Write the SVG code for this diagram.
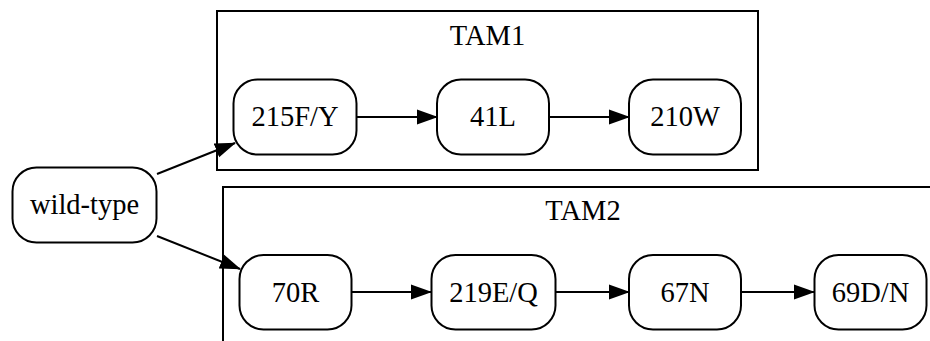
<svg xmlns="http://www.w3.org/2000/svg" width="930" height="341" viewBox="0 0 930 341">
<style>
.cl{fill:none;stroke:#000;stroke-width:2}
.nd{fill:#fff;stroke:#000;stroke-width:2}
text{font-family:"Liberation Serif","Times New Roman",serif;font-size:28.5px;fill:#000;text-anchor:middle}
.ed{fill:none;stroke:#000;stroke-width:2}
</style>
<defs>
<marker id="a" viewBox="0 0 21 16" refX="20" refY="8" markerWidth="21" markerHeight="16" orient="auto" markerUnits="userSpaceOnUse">
<path d="M0,0.5 L21,8 L0,15.5 Z" fill="#000"/>
</marker>
</defs>
<rect width="930" height="341" fill="#fff"/>
<g id="cluster_TAM1">
<rect class="cl" x="217" y="11" width="541" height="159"/>
<text x="487.5" y="44.5">TAM1</text>
</g>
<g id="cluster_TAM2">
<path class="cl" d="M223,345 L223,187 L935,187"/>
<text x="583" y="220">TAM2</text>
</g>
<g id="connectors">
<path class="ed" d="M157,174 L235,143" marker-end="url(#a)"/>
<path class="ed" d="M157,236 L240,269" marker-end="url(#a)"/>
<path class="ed" d="M357,117 L437,117" marker-end="url(#a)"/>
<path class="ed" d="M549,117 L629,117" marker-end="url(#a)"/>
<path class="ed" d="M352,292 L431,292" marker-end="url(#a)"/>
<path class="ed" d="M556,292 L629,292" marker-end="url(#a)"/>
<path class="ed" d="M741,292 L814,292" marker-end="url(#a)"/>
</g>
<g id="wild-type">
<rect class="nd" x="12.5" y="167.5" width="144" height="75" rx="24"/>
<text x="84.5" y="214">wild-type</text>
</g>
<g id="n215FY">
<rect class="nd" x="233.5" y="79.5" width="123" height="75" rx="24"/>
<text x="295" y="126">215F/Y</text>
</g>
<g id="n41L">
<rect class="nd" x="437" y="79.5" width="112" height="75" rx="24"/>
<text x="493" y="126">41L</text>
</g>
<g id="n210W">
<rect class="nd" x="629" y="79.5" width="112" height="75" rx="24"/>
<text x="685" y="126">210W</text>
</g>
<g id="n70R">
<rect class="nd" x="239.5" y="255" width="112" height="74.5" rx="24"/>
<text x="295.5" y="301.5">70R</text>
</g>
<g id="n219EQ">
<rect class="nd" x="431.5" y="255" width="124" height="74.5" rx="24"/>
<text x="493.5" y="301.5">219E/Q</text>
</g>
<g id="n67N">
<rect class="nd" x="629" y="255" width="112" height="74.5" rx="24"/>
<text x="685" y="301.5">67N</text>
</g>
<g id="n69DN">
<rect class="nd" x="814.5" y="255" width="112" height="74.5" rx="24"/>
<text x="870.5" y="301.5">69D/N</text>
</g>
</svg>
